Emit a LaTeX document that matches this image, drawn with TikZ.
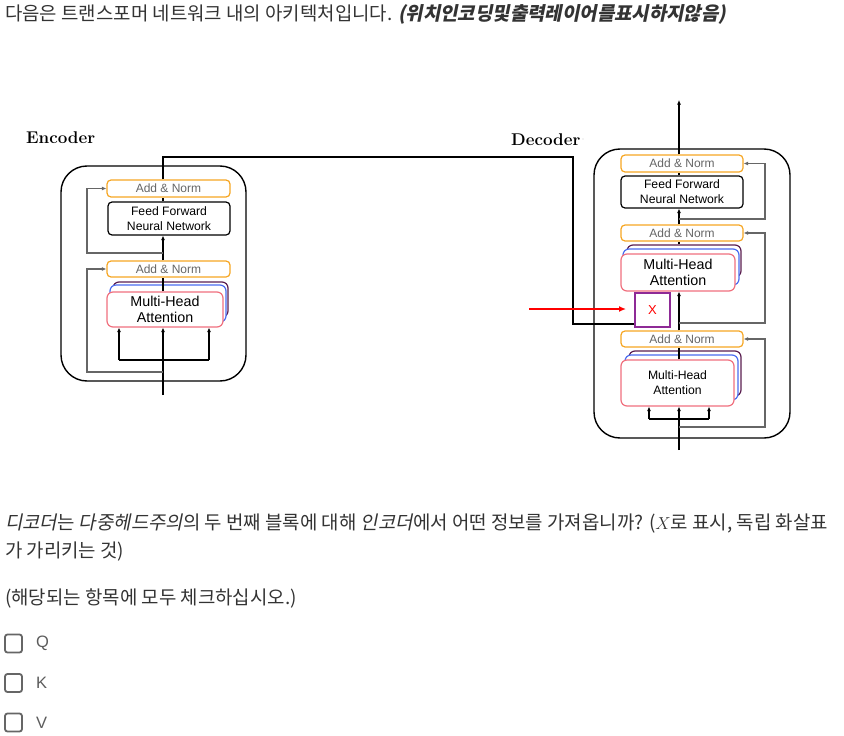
\documentclass[tikz,border=0pt]{standalone}
\usepackage{fontspec}
\setsansfont{Liberation Sans}
\newfontfamily\cjk{Noto Sans CJK KR}[AutoFakeSlant=0.2]
\newfontfamily\cjkbi{Noto Sans CJK KR}[UprightFeatures={FakeSlant=0.2}, BoldFeatures={FakeSlant=0.2}]
\newfontfamily\lsans{Liberation Sans}
\usetikzlibrary{arrows.meta}
\definecolor{txt}{HTML}{333333}
\definecolor{orng}{HTML}{F6A623}
\definecolor{pnk}{HTML}{F0707E}
\definecolor{blu}{HTML}{4A6CF0}
\definecolor{purp}{HTML}{5A1E50}
\definecolor{xbox}{HTML}{8E2A96}
\definecolor{gry}{HTML}{666666}
\definecolor{cbox}{HTML}{666666}
\tikzset{
  box/.style={draw, rounded corners=4, line width=1.2, inner sep=0, align=center, fill=white},
  addn/.style={box, draw=orng, text=gry, font=\lsans\fontsize{12}{13}\selectfont},
  ffn/.style={box, draw=black, font=\lsans\fontsize{12.2}{15}\selectfont},
  mhp/.style={box, draw=purp, rounded corners=6},
  mhb/.style={box, draw=blu, rounded corners=6},
  mhf/.style={box, draw=pnk, rounded corners=6},
  outer/.style={draw, line width=1.4, rounded corners=26},
  arr/.style={line width=1.2, -{Latex[length=4.5pt,width=4pt]}},
  ln/.style={line width=1.2},
  res/.style={line width=1.2, draw=gry, -{Latex[length=4.5pt,width=4pt]}},
  lbl/.style={font=\bfseries\fontsize{17}{20}\selectfont, inner sep=0, anchor=west},
  qtxt/.style={font=\cjk\fontsize{18.9}{22}\selectfont, text=txt, inner sep=0, anchor=west},
  chk/.style={draw=cbox, line width=1.8, rounded corners=2.5, minimum width=17, minimum height=18, inner sep=0},
  opt/.style={font=\lsans\fontsize{16.5}{19}\selectfont, text=txt!80, inner sep=0, anchor=west},
}
\begin{document}
\begin{tikzpicture}[x=1pt,y=-1pt]
\useasboundingbox (0,0) rectangle (844,736);
% title
\node[qtxt] (title) at (5,14) {다음은 트랜스포머 네트워크 내의 아키텍처입니다. {\cjkbi\bfseries (위치인코딩및출력레이어를표시하지않음)}};

% ===== Encoder =====
\node[lbl] (enclbl) at (26,138) {Encoder};
\draw[outer] (61,166) rectangle (246,381);
\node[addn, minimum width=123, minimum height=17] (ean2) at (168.5,188.5) {Add \& Norm};
\node[ffn, minimum width=122, minimum height=33] (effn) at (169,218.5) {Feed Forward\\Neural Network};
\node[addn, minimum width=123, minimum height=16] (ean1) at (168.5,269) {Add \& Norm};
\node[mhp, minimum width=115, minimum height=35] (emha3) at (170.5,299.5) {};
\node[mhb, minimum width=116, minimum height=37] (emha2) at (168,303.5) {};
\node[mhf, minimum width=116, minimum height=35, font=\lsans\fontsize{14.3}{16.5}\selectfont] (emha1) at (165,309.5) {Multi-Head\\Attention};

\coordinate (ein) at (163,395);
\coordinate (eb) at (163,360);
\coordinate (ebl) at (119,360);
\coordinate (ebr) at (209,360);
\coordinate (er1) at (163,372);
\coordinate (er1c) at (87,372);
\coordinate (er2) at (163,253);
\coordinate (er2c) at (87,253);
\coordinate (etop) at (163,157);
\coordinate (ecross) at (573,157);
\coordinate (ecrossb) at (573,324);

\draw[arr] (ein) -- (ein |- emha1.south);
\draw[ln] (ebl) -- (ebr);
\draw[arr] (ebl) -- (ebl |- emha1.south);
\draw[arr] (ebr) -- (ebr |- emha1.south);
\draw[res] (er1) -- (er1c) -- (er1c |- ean1.west) -- (ean1.west);
\draw[ln] (ein |- emha1.north) -- (ein |- ean1.south);
\draw[arr] (ein |- ean1.north) -- (ein |- effn.south);
\draw[res] (er2) -- (er2c) -- (er2c |- ean2.west) -- (ean2.west);
\draw[ln] (ein |- effn.north) -- (ein |- ean2.south);

% ===== Decoder =====
\node[lbl] (declbl) at (511,140) {Decoder};
\fill[gray!40] (583,139) circle (0.7);
\draw[outer] (594,149) rectangle (790,438);
\node[addn, minimum width=122, minimum height=17] (dan3) at (682,163.5) {Add \& Norm};
\node[ffn, minimum width=122, minimum height=32] (dffn) at (682,192) {Feed Forward\\Neural Network};
\node[addn, minimum width=122, minimum height=16] (dan2) at (682,233) {Add \& Norm};
\node[mhp, minimum width=114, minimum height=32] (dm2c) at (684,261) {};
\node[mhb, minimum width=116, minimum height=36] (dm2b) at (681,267) {};
\node[mhf, minimum width=114, minimum height=37, font=\lsans\fontsize{14.3}{16.5}\selectfont] (dm2a) at (678,272.5) {Multi-Head\\Attention};
\node[draw=xbox, line width=1.5, minimum width=35, minimum height=34, inner sep=0, fill=white, text=red, font=\lsans\fontsize{13}{14}\selectfont] (xb) at (652.5,310) {X};
\node[addn, minimum width=122, minimum height=16] (dan1) at (682,339) {Add \& Norm};
\node[mhp, minimum width=112, minimum height=45] (dm1c) at (685,373.5) {};
\node[mhb, minimum width=113, minimum height=45] (dm1b) at (681.5,377.5) {};
\node[mhf, minimum width=113, minimum height=46, font=\lsans\fontsize{12.2}{15}\selectfont] (dm1a) at (677.5,383) {Multi-Head\\Attention};

\coordinate (din) at (679,450);
\coordinate (dbl) at (649,419);
\coordinate (dbr) at (709,419);
\coordinate (dr1) at (679,427);
\coordinate (dr1c) at (765,427);
\coordinate (dr2) at (679,323);
\coordinate (dr2c) at (765,323);
\coordinate (dr3) at (679,219);
\coordinate (dr3c) at (765,219);
\coordinate (dout) at (679,100);
\coordinate (redst) at (529,309);
\coordinate (reden) at (626,309);

\draw[arr] (din) -- (din |- dm1a.south);
\draw[ln] (dbl) -- (dbr);
\draw[arr] (dbl) -- (dbl |- dm1a.south);
\draw[arr] (dbr) -- (dbr |- dm1a.south);
\draw[res] (dr1) -- (dr1c) -- (dr1c |- dan1.east) -- (dan1.east);
\draw[ln] (din |- dm1a.north) -- (din |- dan1.south);
\draw[arr] (din |- dan1.north) -- (din |- dm2a.south);
\draw[res] (dr2) -- (dr2c) -- (dr2c |- dan2.east) -- (dan2.east);
\draw[ln] (din |- dm2c.north) -- (din |- dan2.south);
\draw[arr] (din |- dan2.north) -- (din |- dffn.south);
\draw[res] (dr3) -- (dr3c) -- (dr3c |- dan3.east) -- (dan3.east);
\draw[ln] (din |- dffn.north) -- (din |- dan3.south);
\draw[arr] (din |- dan3.north) -- (dout);

% encoder to decoder
\draw[ln] (ein |- ean2.north) -- (etop) -- (ecross) -- (ecrossb) -- (ecrossb -| xb.west);
\draw[line width=1.3, draw=red, -{Latex[length=7pt,width=6pt]}] (redst) -- (reden);

% ===== Question =====
\node[qtxt] (q1) at (5,524) {\textit{디코더}는 \textit{다중헤드주의}의 두 번째 블록에 대해 \textit{인코더}에서 어떤 정보를 가져옵니까? ($X$로 표시, 독립 화살표};
\node[qtxt] (q2) at (5,552) {가 가리키는 것)};
\node[qtxt] (q3) at (5,598) {(해당되는 항목에 모두 체크하십시오.)};

\node[chk] (c1) at (13.5,643.5) {};
\node[chk] (c2) at (13.5,683) {};
\node[chk] (c3) at (13.5,722.5) {};
\node[opt] (o1) at (36,643.5) {Q};
\node[opt] (o2) at (36,683) {K};
\node[opt] (o3) at (36,722.5) {V};
\end{tikzpicture}
\end{document}
